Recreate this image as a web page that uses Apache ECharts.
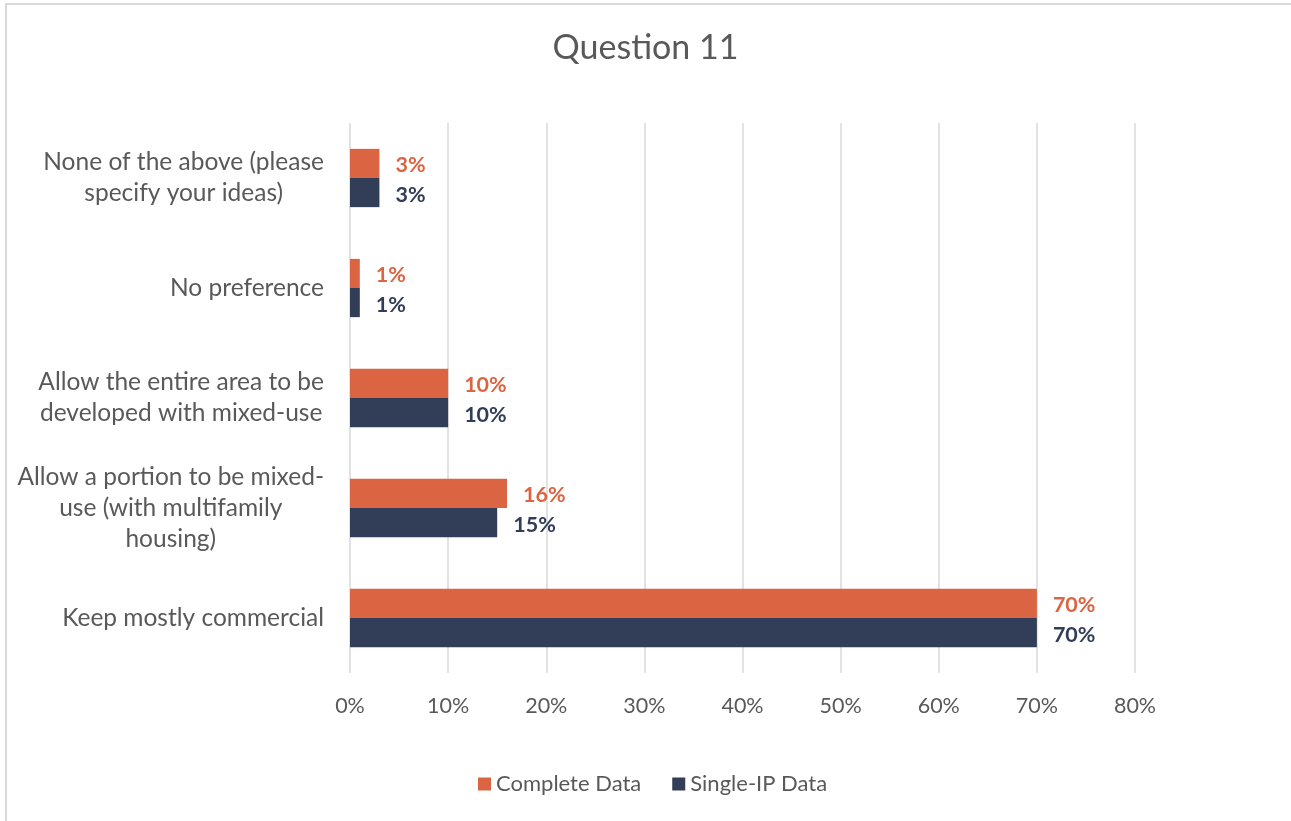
<!DOCTYPE html>
<html>
<head>
<meta charset="utf-8">
<script src="https://cdn.jsdelivr.net/npm/echarts@6/dist/echarts.min.js"></script>
<style>
  html, body { margin: 0; padding: 0; background: #fff; }
  #frame {
    position: absolute; left: 5px; top: 3px; width: 1300px; height: 830px;
    border-left: 2px solid #d9d9d9; border-top: 2px solid #d9d9d9;
    box-sizing: border-box;
  }
  #chart { position: absolute; left: 0; top: 0; width: 1291px; height: 821px; }
</style>
</head>
<body>
<div id="frame"></div>
<div id="chart"></div>
<script>
// Answer options, listed top to bottom as they appear on the chart
const categories = [
  'None of the above (please\nspecify your ideas)',
  'No preference',
  'Allow the entire area to be\ndeveloped with mixed-use',
  'Allow a portion to be mixed-\nuse (with multifamily\nhousing)',
  'Keep mostly commercial'
];
// Share of respondents, percent
const completeData = [3, 1, 10, 16, 70];
const singleIpData = [3, 1, 10, 15, 70];
const xTicks = [0, 10, 20, 30, 40, 50, 60, 70, 80];

const ORANGE = '#db6543';
const NAVY = '#323e57';
const GREY = '#595959';
const FONT = 'Lato';

const chart = echarts.init(document.getElementById('chart'), null, { renderer: 'canvas' });

function barLabel(color) {
  return {
    show: true,
    position: 'right',
    distance: 16,
    offset: [0, 2],
    formatter: p => p.value + '%',
    color: color,
    fontFamily: FONT,
    fontWeight: 'bold',
    fontSize: 21.5
  };
}

chart.setOption({
  animation: false,
  backgroundColor: 'transparent',
  title: {
    text: 'Question 11',
    left: 'center',
    top: 26,
    textStyle: { color: GREY, fontFamily: FONT, fontWeight: 'normal', fontSize: 34 }
  },
  legend: {
    data: ['Complete Data', 'Single-IP Data'],
    bottom: 21,
    left: 473,
    icon: 'rect',
    itemWidth: 13,
    itemHeight: 13,
    itemGap: 31,
    textStyle: { color: GREY, fontFamily: FONT, fontSize: 22 }
  },
  grid: { left: 350, top: 123, width: 785, height: 550, containLabel: false },
  xAxis: {
    type: 'value',
    min: xTicks[0],
    max: xTicks[xTicks.length - 1],
    interval: 10,
    axisLine: { show: false },
    axisTick: { show: false },
    splitLine: { show: true, lineStyle: { color: '#d9d9d9', width: 1.5 } },
    axisLabel: {
      formatter: v => v + '%',
      color: GREY, fontFamily: FONT, fontSize: 21.5, margin: 22
    }
  },
  yAxis: {
    type: 'category',
    inverse: true,
    data: categories,
    axisLine: { show: false },
    axisTick: { show: false },
    axisLabel: {
      margin: 26,
      align: 'right',
      formatter: v => v.split('\n').map(l => '{c|' + l + '}').join('\n'),
      rich: {
        c: { align: 'center', color: GREY, fontFamily: FONT, fontSize: 24.5, lineHeight: 31 }
      }
    }
  },
  series: [
    {
      name: 'Complete Data',
      type: 'bar',
      data: completeData,
      itemStyle: { color: ORANGE },
      barGap: '0%',
      barCategoryGap: '47%',
      label: barLabel(ORANGE)
    },
    {
      name: 'Single-IP Data',
      type: 'bar',
      data: singleIpData,
      itemStyle: { color: NAVY },
      label: barLabel(NAVY)
    }
  ]
});
</script>
</body>
</html>
